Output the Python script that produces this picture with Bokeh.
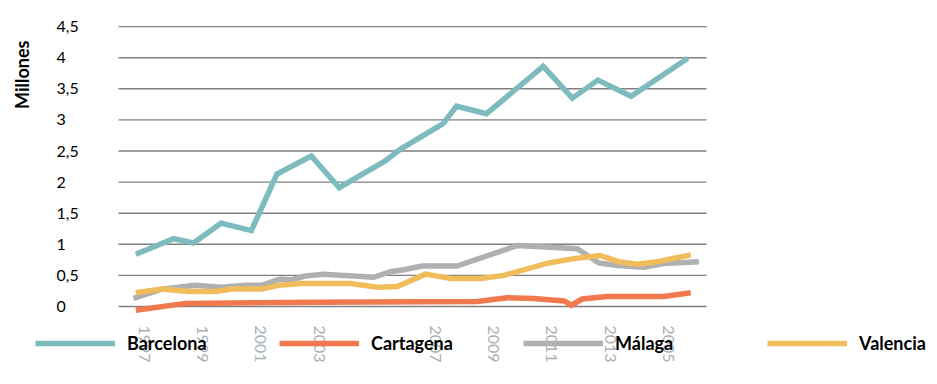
from bokeh.plotting import figure
from bokeh.models import Range1d, FixedTicker, LinearAxis, Title, Legend, LegendItem
from bokeh.embed import file_html
from bokeh.resources import INLINE

# ---- data (millions of passengers) ----
barcelona_x = [1997.00, 1998.30, 1998.98, 1999.93, 2000.97, 2001.85, 2003.03, 2003.99,
               2005.57, 2006.10, 2007.56, 2008.02, 2009.05, 2011.00, 2012.00, 2012.88,
               2014.02, 2015.97]
barcelona_y = [0.84, 1.09, 1.02, 1.34, 1.22, 2.13, 2.42, 1.91,
               2.34, 2.53, 2.94, 3.22, 3.10, 3.86, 3.35, 3.64,
               3.38, 3.99]

cartagena_x = [1997.00, 1998.70, 2003.28, 2008.73, 2009.76, 2010.68, 2011.71, 2011.97,
               2012.34, 2013.20, 2015.14, 2016.07]
cartagena_y = [-0.06, 0.05, 0.07, 0.08, 0.14, 0.13, 0.09, 0.02,
               0.12, 0.16, 0.16, 0.22]

malaga_x = [1996.92, 1997.89, 1999.04, 1999.96, 2000.76, 2001.33, 2001.96, 2002.36,
            2002.82, 2003.46, 2005.18, 2005.75, 2006.21, 2006.84, 2008.04, 2010.11,
            2012.17, 2012.91, 2013.54, 2014.46, 2015.14, 2016.35]
malaga_y = [0.13, 0.28, 0.34, 0.31, 0.34, 0.34, 0.44, 0.43,
            0.49, 0.52, 0.47, 0.56, 0.59, 0.65, 0.65, 0.98,
            0.93, 0.70, 0.66, 0.63, 0.69, 0.72]

valencia_x = [1997.00, 1997.89, 1998.81, 1999.73, 2000.30, 2001.33, 2001.90, 2002.70,
              2004.38, 2005.30, 2005.98, 2006.96, 2007.82, 2008.85, 2009.65, 2011.19,
              2012.05, 2012.96, 2013.60, 2014.23, 2014.92, 2016.07]
valencia_y = [0.22, 0.28, 0.24, 0.24, 0.28, 0.28, 0.34, 0.37,
              0.37, 0.31, 0.32, 0.52, 0.45, 0.45, 0.50, 0.70,
              0.77, 0.82, 0.72, 0.68, 0.72, 0.83]

series_names = ["Barcelona", "Cartagena", "Málaga", "Valencia"]
series_colors = ["#7DBBBE", "#F07A4E", "#AFB1B0", "#F1BD5A"]

x_tick_years = [1997, 1999, 2001, 2003, 2007, 2009, 2011, 2013, 2015]
x_tick_labels = ["1997", "1999", "2001", "2003", "2007", "2009", "2011", "2013", "2005"]

y_ticks = [0, 0.5, 1, 1.5, 2, 2.5, 3, 3.5, 4, 4.5]
y_tick_labels = ["0", "0,5", "1", "1,5", "2", "2,5", "3", "3,5", "4", "4,5"]

FONT = "Lato"

# ---- layout geometry (pixels) ----
PX_PER_YEAR = 29.1
PX_PER_UNIT = 62.2
FIG_LEFT = 35                  # room for the "Millones" title
FRAME_W, FRAME_H = 894, 372
X0_PX = 135.3 - FIG_LEFT       # where 1997 sits inside the frame
Y0_PX = 306                    # where 0 sits (from frame top)
GRID_PX = (118 - FIG_LEFT, 706 - FIG_LEFT)   # horizontal extent of the grid lines


def x_at(px):
    return 1997 + (px - X0_PX) / PX_PER_YEAR


def y_at(py):
    return (Y0_PX - py) / PX_PER_UNIT


LABEL_SHIFT = 0.3  # the year labels sit a little right of the line's yearly points

p = figure(frame_width=FRAME_W, frame_height=FRAME_H, output_backend="svg",
           toolbar_location=None,
           x_range=Range1d(x_at(0), x_at(FRAME_W)), y_range=Range1d(y_at(FRAME_H), y_at(0)),
           x_axis_location=None, y_axis_location=None,
           min_border_left=FIG_LEFT, min_border_right=0, min_border_top=0,
           min_border_bottom=0)
p.outline_line_color = None
p.background_fill_color = "white"
p.xgrid.visible = False
p.ygrid.visible = False


def style_axis(ax, color="black"):
    ax.axis_line_color = None
    ax.major_tick_line_color = None
    ax.minor_tick_line_color = None
    ax.major_tick_out = 0
    ax.major_tick_in = 0
    ax.major_label_standoff = 0
    ax.major_label_text_font = FONT
    ax.major_label_text_font_size = "16px"
    ax.major_label_text_color = color


# y axis labels, drawn in the band left of the plotted area
ya = LinearAxis(ticker=FixedTicker(ticks=y_ticks),
                major_label_overrides={t: l for t, l in zip(y_ticks, y_tick_labels)},
                fixed_location=x_at(56 - FIG_LEFT))
style_axis(ya)
p.add_layout(ya, "right")

# x axis with rotated year labels
xa = LinearAxis(ticker=FixedTicker(ticks=[y + LABEL_SHIFT for y in x_tick_years]),
                major_label_overrides={y + LABEL_SHIFT: l for y, l in zip(x_tick_years, x_tick_labels)},
                fixed_location=y_at(325))
style_axis(xa, "#A9B1B6")
xa.major_label_orientation = "vertical"
p.add_layout(xa, "below")

p.add_layout(Title(text="Millones", text_font=FONT, text_font_style="bold",
                   text_font_size="18px", align="right", offset=40, standoff=5,
                   text_color="black"), "left")

# horizontal grid lines at the y ticks, limited to the plotted area
n = len(y_ticks)
p.segment(x0=[x_at(GRID_PX[0])] * n, y0=y_ticks, x1=[x_at(GRID_PX[1])] * n, y1=y_ticks,
          line_color="#808080", line_width=1.4)

xs = [barcelona_x, cartagena_x, malaga_x, valencia_x]
ys = [barcelona_y, cartagena_y, malaga_y, valencia_y]
renderers = []
for x, y, c in zip(xs, ys, series_colors):
    r = p.line(x, y, line_color=c, line_width=5.5, line_join="miter")
    renderers.append(r)

legend = Legend(items=[LegendItem(label=n, renderers=[r]) for n, r in zip(series_names, renderers)],
                orientation="horizontal", location=(0, FRAME_H - 354),
                glyph_width=80, glyph_height=20, label_height=20,
                label_standoff=12, label_width=152, spacing=0, padding=0, margin=0,
                border_line_color=None, background_fill_alpha=0,
                label_text_font=FONT, label_text_font_style="bold",
                label_text_font_size="18px", label_text_color="black")
p.add_layout(legend)

open("out.html", "w").write(file_html(p, INLINE))
